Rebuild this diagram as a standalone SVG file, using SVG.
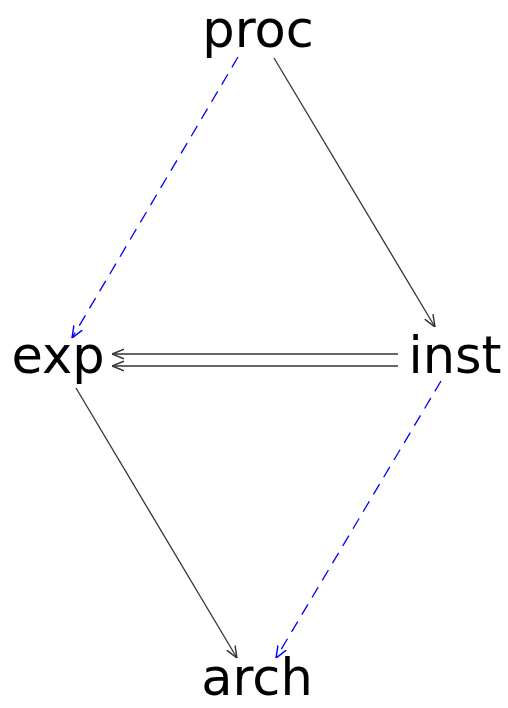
<svg xmlns="http://www.w3.org/2000/svg" width="508" height="708" viewBox="0 0 508 708">
<style>
.lbl{font-family:"DejaVu Sans",sans-serif;font-size:51px;fill:#000;text-anchor:middle}
.solid{stroke:#333;stroke-width:1.3;fill:none}
.dash{stroke:#0000ff;stroke-width:1.3;fill:none;stroke-dasharray:12,8}
</style>
<defs>
<marker id="ab" viewBox="0 0 10 10" refX="10" refY="5" markerWidth="12" markerHeight="12" markerUnits="userSpaceOnUse" orient="auto"><path d="M0,1 L10,5 L0,9" fill="none" stroke="#333" stroke-width="1.2"/></marker>
<marker id="au" viewBox="0 0 10 10" refX="10" refY="5" markerWidth="12" markerHeight="12" markerUnits="userSpaceOnUse" orient="auto"><path d="M0,1 L10,5 L0,9" fill="none" stroke="#0000ff" stroke-width="1.2"/></marker>
</defs>
<g id="edges">
<path class="dash" d="M238,57 L72,338" marker-end="url(#au)"/>
<path class="solid" d="M274,58 L435,327" marker-end="url(#ab)"/>
<path class="solid" d="M398,354 L112,354" marker-end="url(#ab)"/>
<path class="solid" d="M398,366 L112,366" marker-end="url(#ab)"/>
<path class="solid" d="M76,388 L237,658" marker-end="url(#ab)"/>
<path class="dash" d="M441,381 L276,658" marker-end="url(#au)"/>
</g>
<g id="proc"><text class="lbl" x="258" y="47">proc</text></g>
<g id="exp"><text class="lbl" x="58" y="373">exp</text></g>
<g id="inst"><text class="lbl" x="455" y="373">inst</text></g>
<g id="arch"><text class="lbl" x="257" y="695">arch</text></g>
</svg>
